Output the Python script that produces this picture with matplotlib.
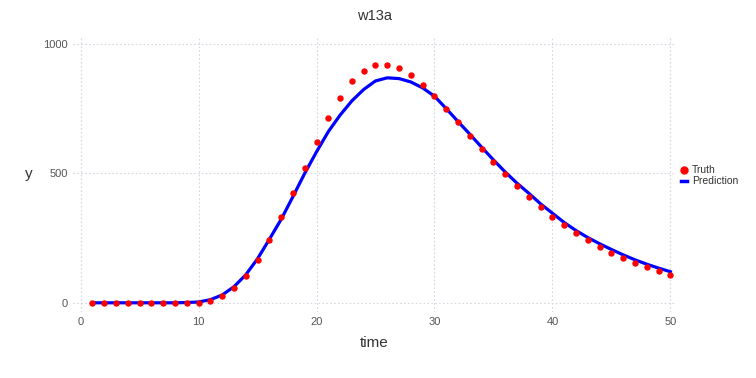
import matplotlib.pyplot as plt
from matplotlib.lines import Line2D

plt.rcParams["font.family"] = ["Liberation Sans", "DejaVu Sans"]

time = list(range(1, 51))
truth = [0, 0, 0, 0, 0, 0, 0, 0, 0, 0,
         8, 26, 57, 104, 167, 242, 330, 424, 522, 621,
         713, 793, 855, 896, 918, 920, 906, 879, 842, 797,
         748, 697, 645, 594, 544, 496, 451, 409, 369, 333,
         300, 270, 242, 217, 194, 174, 154, 138, 123, 109]
prediction = [0, 0, 0, 0, 0, 0, 0, 0, 1, 3,
              12, 30, 62, 108, 170, 245, 322, 410, 500, 583,
              661, 725, 780, 824, 857, 869, 866, 853, 830, 798,
              750, 700, 651, 601, 552, 505, 462, 423, 382, 346,
              310, 279, 252, 228, 206, 185, 166, 149, 134, 120]

fig = plt.figure(figsize=(7.56, 3.78), dpi=100)
ax = fig.add_axes([0.0966, 0.175, 0.7964, 0.728])

ax.plot(time, prediction, color="#0000ff", lw=2.3, zorder=2)
ax.plot(time, truth, "o", color="#ff0000", ms=3.6, mec="#ff0000", zorder=3)

ax.set_xlim(-0.64, 50.4)
ax.set_ylim(-35, 1028)
ax.set_xticks([0, 10, 20, 30, 40, 50])
ax.set_yticks([0, 500, 1000])
ax.grid(True, color="#d6d6e2", ls=(0, (1.5, 2)), lw=0.8)
for s in ax.spines.values():
    s.set_visible(False)
ax.tick_params(length=0, labelsize=8, colors="#555555", pad=4)

ax.set_title("w13a", fontsize=10.5, color="#333333", pad=12)
ax.set_xlabel("time", fontsize=11, color="#333333", labelpad=6)
ax.set_ylabel("y", fontsize=11, color="#333333", rotation=0, labelpad=10, va="center")

handles = [Line2D([], [], ls="none", marker="o", color="#ff0000", ms=5),
           Line2D([], [], color="#0000ff", lw=2.5)]
fig.legend(handles, ["Truth", "Prediction"], loc="center left",
           bbox_to_anchor=(0.888, 0.535), frameon=False, fontsize=7.5,
           handlelength=0.6, handletextpad=0.5, labelspacing=0.1,
           labelcolor="#333333")

fig.savefig("out.png", dpi=100)
